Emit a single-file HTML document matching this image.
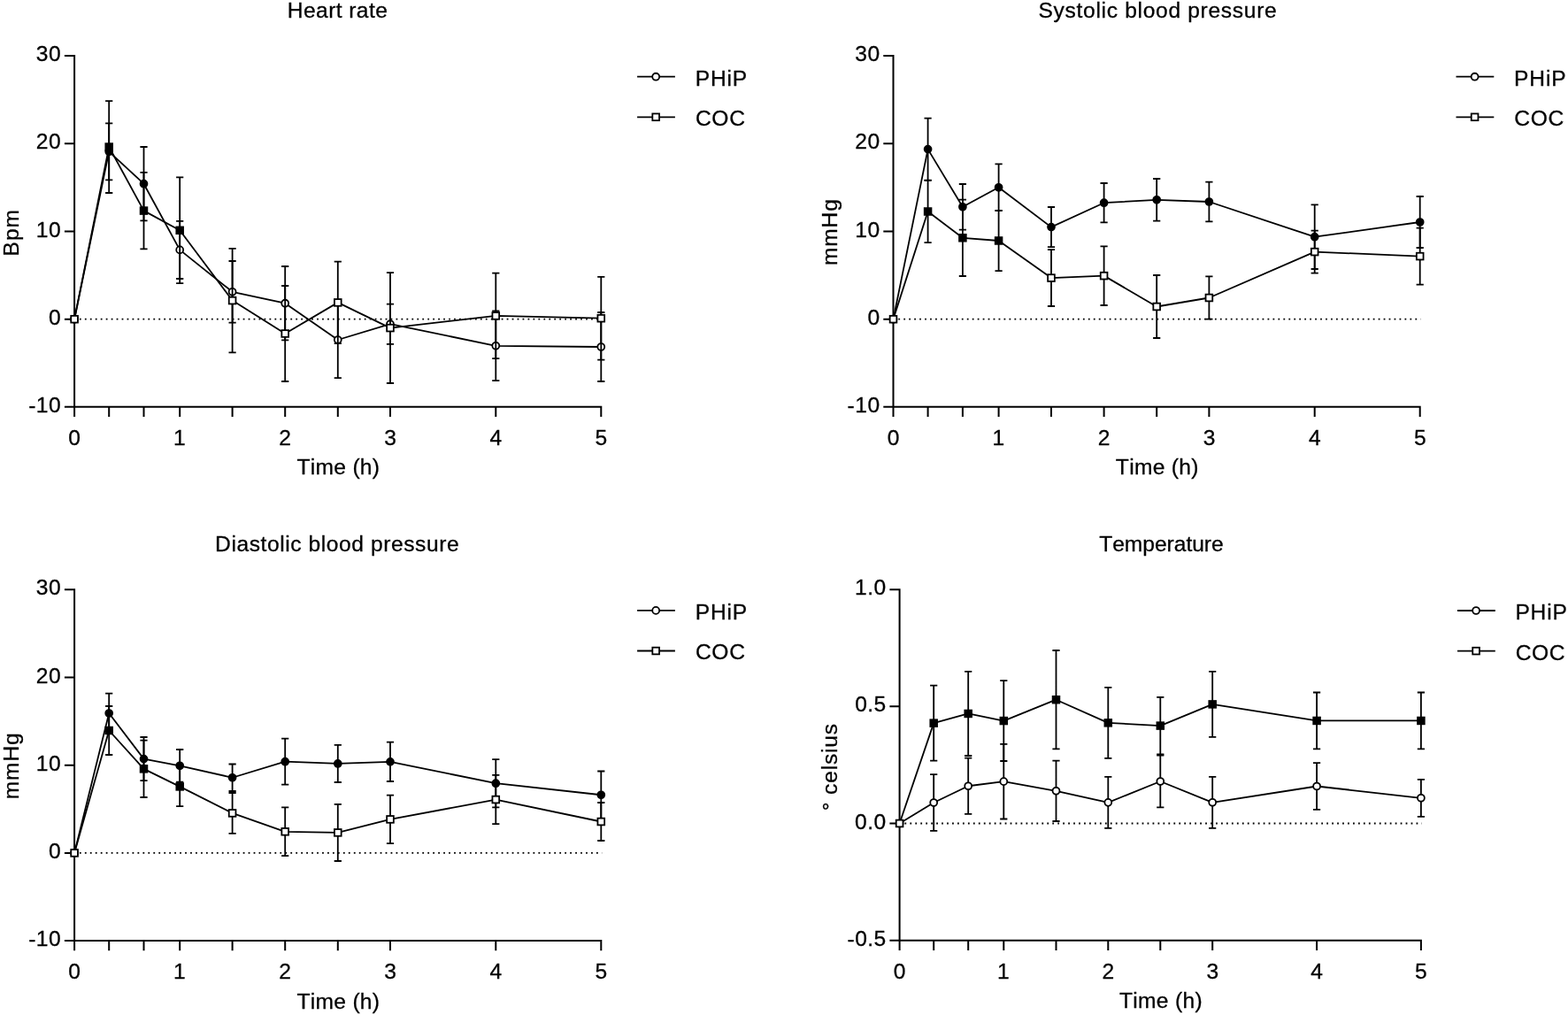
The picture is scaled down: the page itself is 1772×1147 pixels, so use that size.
<!DOCTYPE html>
<html lang="en"><head><meta charset="utf-8"><title>Haemodynamic and temperature effects of PHiP and COC</title>
<style>html,body{margin:0;padding:0;background:#fff}svg{display:block}text{font-family:"Liberation Sans", Arial, Helvetica, sans-serif;font-size:24.6px;fill:#000;stroke:#000;stroke-width:0.3px;font-kerning:none}</style></head><body>
<svg width="1772" height="1147" viewBox="0 0 1772 1147" stroke="#000">
<rect x="0" y="0" width="1772" height="1147" fill="#fff" stroke="none"/>
<g id="heart-rate">
<path d="M84.1 62.1V471M72.9 459.8H680.3M72.9 63.1H84.1M72.9 162.3H84.1M72.9 261.5H84.1M72.9 360.7H84.1M123.2 459.8V471M162.5 459.8V471M203.2 459.8V471M262.6 459.8V471M322.2 459.8V471M381.8 459.8V471M441 459.8V471M560.3 459.8V471M679.3 459.8V471" fill="none" stroke-width="2"/>
<text transform="translate(40.85,69.2)" letter-spacing="0.45">30</text>
<text transform="translate(40.85,168.4)" letter-spacing="0.45">20</text>
<text transform="translate(40.85,267.6)" letter-spacing="0.45">10</text>
<text transform="translate(54.98,366.8)">0</text>
<text transform="translate(32.21,465.9)" letter-spacing="0.45">-10</text>
<line x1="83.95" y1="360.7" x2="680.2" y2="360.7" stroke-width="1.8" stroke-dasharray="1.8 4.16"/>
<path d="M123.2 139.3V203.3M119.1 139.3H127.3M119.1 203.3H127.3M162.5 166V249.4M158.4 166H166.6M158.4 249.4H166.6M203.2 249.8V315M199.1 249.8H207.3M199.1 315H207.3M262.6 295V364.6M258.5 295H266.7M258.5 364.6H266.7M322.2 301V384.4M318.1 301H326.3M318.1 384.4H326.3M381.8 340.8V427.2M377.7 340.8H385.9M377.7 427.2H385.9M441 343.6V388.8M436.9 343.6H445.1M436.9 388.8H445.1M560.3 351.4V430.2M556.2 351.4H564.4M556.2 430.2H564.4M679.3 353V431M675.2 353H683.4M675.2 431H683.4" fill="none" stroke-width="1.8"/>
<polyline points="84.1,360.7 123.2,171.3 162.5,207.7 203.2,282.4 262.6,329.8 322.2,342.7 381.8,384 441,366.2 560.3,390.8 679.3,392" fill="none" stroke-width="1.8" stroke-linejoin="round"/>
<circle cx="84.1" cy="360.7" r="3.95" fill="#fff" stroke-width="1.8"/>
<circle cx="123.2" cy="171.3" r="3.95" fill="#000" stroke-width="1.8"/>
<circle cx="162.5" cy="207.7" r="3.95" fill="#000" stroke-width="1.8"/>
<circle cx="203.2" cy="282.4" r="3.95" fill="#fff" stroke-width="1.8"/>
<circle cx="262.6" cy="329.8" r="3.95" fill="#fff" stroke-width="1.8"/>
<circle cx="322.2" cy="342.7" r="3.95" fill="#fff" stroke-width="1.8"/>
<circle cx="381.8" cy="384" r="3.95" fill="#fff" stroke-width="1.8"/>
<circle cx="441" cy="366.2" r="3.95" fill="#fff" stroke-width="1.8"/>
<circle cx="560.3" cy="390.8" r="3.95" fill="#fff" stroke-width="1.8"/>
<circle cx="679.3" cy="392" r="3.95" fill="#fff" stroke-width="1.8"/>
<path d="M123.2 114.1V218M119.1 114.1H127.3M119.1 218H127.3M162.5 194.8V281.4M158.4 194.8H166.6M158.4 281.4H166.6M203.2 200.4V320.2M199.1 200.4H207.3M199.1 320.2H207.3M262.6 280.8V398.4M258.5 280.8H266.7M258.5 398.4H266.7M322.2 323V431M318.1 323H326.3M318.1 431H326.3M381.8 295.6V388.2M377.7 295.6H385.9M377.7 388.2H385.9M441 308.2V433M436.9 308.2H445.1M436.9 433H445.1M560.3 308.6V405.2M556.2 308.6H564.4M556.2 405.2H564.4M679.3 312.8V406.6M675.2 312.8H683.4M675.2 406.6H683.4" fill="none" stroke-width="1.8"/>
<polyline points="84.1,360.7 123.2,166.05 162.5,238.1 203.2,260.3 262.6,339.6 322.2,377 381.8,341.9 441,370.6 560.3,356.9 679.3,359.7" fill="none" stroke-width="1.8" stroke-linejoin="round"/>
<rect x="80.25" y="356.85" width="7.7" height="7.7" fill="#fff" stroke-width="1.8"/>
<rect x="119.35" y="162.2" width="7.7" height="7.7" fill="#000" stroke-width="1.8"/>
<rect x="158.65" y="234.25" width="7.7" height="7.7" fill="#000" stroke-width="1.8"/>
<rect x="199.35" y="256.45" width="7.7" height="7.7" fill="#000" stroke-width="1.8"/>
<rect x="258.75" y="335.75" width="7.7" height="7.7" fill="#fff" stroke-width="1.8"/>
<rect x="318.35" y="373.15" width="7.7" height="7.7" fill="#fff" stroke-width="1.8"/>
<rect x="377.95" y="338.05" width="7.7" height="7.7" fill="#fff" stroke-width="1.8"/>
<rect x="437.15" y="366.75" width="7.7" height="7.7" fill="#fff" stroke-width="1.8"/>
<rect x="556.45" y="353.05" width="7.7" height="7.7" fill="#fff" stroke-width="1.8"/>
<rect x="675.45" y="355.85" width="7.7" height="7.7" fill="#fff" stroke-width="1.8"/>
<text transform="translate(77.26,503.1)">0</text>
<text transform="translate(196.02,503.1)">1</text>
<text transform="translate(315.36,503.1)">2</text>
<text transform="translate(434.23,503.1)">3</text>
<text transform="translate(553.54,503.1)">4</text>
<text transform="translate(672.48,503.1)">5</text>
<text transform="translate(335.45,536.4)" letter-spacing="0.29">Time (h)</text>
<text transform="translate(324.78,20)" letter-spacing="0.41">Heart rate</text>
<text transform="translate(20.9,289.52) rotate(-90)" letter-spacing="1.03">Bpm</text>
<line x1="720.1" y1="86.7" x2="762.9" y2="86.7" stroke-width="1.8"/>
<circle cx="741.2" cy="86.7" r="3.95" fill="#fff" stroke-width="1.8"/>
<text transform="translate(785.68,96.6)" letter-spacing="0.82">PHiP</text>
<line x1="720.1" y1="132.3" x2="762.9" y2="132.3" stroke-width="1.8"/>
<rect x="737.35" y="128.45" width="7.7" height="7.7" fill="#fff" stroke-width="1.8"/>
<text transform="translate(785.95,142.2)" letter-spacing="0.66">COC</text>
</g><g id="systolic">
<path d="M1009.5 62.1V471M998.3 459.8H1605.7M998.3 63.1H1009.5M998.3 162.3H1009.5M998.3 261.5H1009.5M998.3 360.7H1009.5M1048.6 459.8V471M1087.9 459.8V471M1128.6 459.8V471M1188 459.8V471M1247.6 459.8V471M1307.2 459.8V471M1366.4 459.8V471M1485.7 459.8V471M1604.7 459.8V471" fill="none" stroke-width="2"/>
<text transform="translate(966.25,69.2)" letter-spacing="0.45">30</text>
<text transform="translate(966.25,168.4)" letter-spacing="0.45">20</text>
<text transform="translate(966.25,267.6)" letter-spacing="0.45">10</text>
<text transform="translate(980.38,366.8)">0</text>
<text transform="translate(957.61,465.9)" letter-spacing="0.45">-10</text>
<line x1="1009.35" y1="360.7" x2="1605.6" y2="360.7" stroke-width="1.8" stroke-dasharray="1.8 4.16"/>
<path d="M1048.6 133.6V203.6M1044.5 133.6H1052.7M1044.5 203.6H1052.7M1087.9 208V259.6M1083.8 208H1092M1083.8 259.6H1092M1128.6 185.4V238.2M1124.5 185.4H1132.7M1124.5 238.2H1132.7M1188 234V279.2M1183.9 234H1192.1M1183.9 279.2H1192.1M1247.6 207V251.4M1243.5 207H1251.7M1243.5 251.4H1251.7M1307.2 202V249.6M1303.1 202H1311.3M1303.1 249.6H1311.3M1366.4 205.6V250.4M1362.3 205.6H1370.5M1362.3 250.4H1370.5M1485.7 231.4V304M1481.6 231.4H1489.8M1481.6 304H1489.8M1604.7 222V280M1600.6 222H1608.8M1600.6 280H1608.8" fill="none" stroke-width="1.8"/>
<polyline points="1009.5,360.7 1048.6,168.6 1087.9,233.8 1128.6,211.8 1188,256.6 1247.6,229.2 1307.2,225.8 1366.4,228 1485.7,267.7 1604.7,251" fill="none" stroke-width="1.8" stroke-linejoin="round"/>
<circle cx="1009.5" cy="360.7" r="3.95" fill="#fff" stroke-width="1.8"/>
<circle cx="1048.6" cy="168.6" r="3.95" fill="#000" stroke-width="1.8"/>
<circle cx="1087.9" cy="233.8" r="3.95" fill="#000" stroke-width="1.8"/>
<circle cx="1128.6" cy="211.8" r="3.95" fill="#000" stroke-width="1.8"/>
<circle cx="1188" cy="256.6" r="3.95" fill="#000" stroke-width="1.8"/>
<circle cx="1247.6" cy="229.2" r="3.95" fill="#000" stroke-width="1.8"/>
<circle cx="1307.2" cy="225.8" r="3.95" fill="#000" stroke-width="1.8"/>
<circle cx="1366.4" cy="228" r="3.95" fill="#000" stroke-width="1.8"/>
<circle cx="1485.7" cy="267.7" r="3.95" fill="#000" stroke-width="1.8"/>
<circle cx="1604.7" cy="251" r="3.95" fill="#000" stroke-width="1.8"/>
<path d="M1048.6 203.8V274.2M1044.5 203.8H1052.7M1044.5 274.2H1052.7M1087.9 225.6V312M1083.8 225.6H1092M1083.8 312H1092M1128.6 237.8V306.2M1124.5 237.8H1132.7M1124.5 306.2H1132.7M1188 282.2V346M1183.9 282.2H1192.1M1183.9 346H1192.1M1247.6 278.3V345M1243.5 278.3H1251.7M1243.5 345H1251.7M1307.2 311V382M1303.1 311H1311.3M1303.1 382H1311.3M1366.4 312.4V360.6M1362.3 312.4H1370.5M1362.3 360.6H1370.5M1485.7 260.6V308.6M1481.6 260.6H1489.8M1481.6 308.6H1489.8M1604.7 257.6V321.6M1600.6 257.6H1608.8M1600.6 321.6H1608.8" fill="none" stroke-width="1.8"/>
<polyline points="1009.5,360.7 1048.6,239 1087.9,268.8 1128.6,272 1188,314.1 1247.6,311.65 1307.2,346.5 1366.4,336.5 1485.7,284.6 1604.7,289.6" fill="none" stroke-width="1.8" stroke-linejoin="round"/>
<rect x="1005.65" y="356.85" width="7.7" height="7.7" fill="#fff" stroke-width="1.8"/>
<rect x="1044.75" y="235.15" width="7.7" height="7.7" fill="#000" stroke-width="1.8"/>
<rect x="1084.05" y="264.95" width="7.7" height="7.7" fill="#000" stroke-width="1.8"/>
<rect x="1124.75" y="268.15" width="7.7" height="7.7" fill="#000" stroke-width="1.8"/>
<rect x="1184.15" y="310.25" width="7.7" height="7.7" fill="#fff" stroke-width="1.8"/>
<rect x="1243.75" y="307.8" width="7.7" height="7.7" fill="#fff" stroke-width="1.8"/>
<rect x="1303.35" y="342.65" width="7.7" height="7.7" fill="#fff" stroke-width="1.8"/>
<rect x="1362.55" y="332.65" width="7.7" height="7.7" fill="#fff" stroke-width="1.8"/>
<rect x="1481.85" y="280.75" width="7.7" height="7.7" fill="#fff" stroke-width="1.8"/>
<rect x="1600.85" y="285.75" width="7.7" height="7.7" fill="#fff" stroke-width="1.8"/>
<text transform="translate(1002.66,503.1)">0</text>
<text transform="translate(1121.42,503.1)">1</text>
<text transform="translate(1240.76,503.1)">2</text>
<text transform="translate(1359.63,503.1)">3</text>
<text transform="translate(1478.94,503.1)">4</text>
<text transform="translate(1597.88,503.1)">5</text>
<text transform="translate(1260.85,536.4)" letter-spacing="0.29">Time (h)</text>
<text transform="translate(1173.48,20)" letter-spacing="0.68">Systolic blood pressure</text>
<text transform="translate(946.2,300.03) rotate(-90)" letter-spacing="0.83">mmHg</text>
<line x1="1645.5" y1="86.7" x2="1688.3" y2="86.7" stroke-width="1.8"/>
<circle cx="1666.6" cy="86.7" r="3.95" fill="#fff" stroke-width="1.8"/>
<text transform="translate(1711.08,96.6)" letter-spacing="0.82">PHiP</text>
<line x1="1645.5" y1="132.3" x2="1688.3" y2="132.3" stroke-width="1.8"/>
<rect x="1662.75" y="128.45" width="7.7" height="7.7" fill="#fff" stroke-width="1.8"/>
<text transform="translate(1711.35,142.2)" letter-spacing="0.66">COC</text>
</g><g id="diastolic">
<path d="M84.1 665.3V1074.2M72.9 1063H680.3M72.9 666.3H84.1M72.9 765.5H84.1M72.9 864.7H84.1M72.9 963.9H84.1M123.2 1063V1074.2M162.5 1063V1074.2M203.2 1063V1074.2M262.6 1063V1074.2M322.2 1063V1074.2M381.8 1063V1074.2M441 1063V1074.2M560.3 1063V1074.2M679.3 1063V1074.2" fill="none" stroke-width="2"/>
<text transform="translate(40.85,672.4)" letter-spacing="0.45">30</text>
<text transform="translate(40.85,771.6)" letter-spacing="0.45">20</text>
<text transform="translate(40.85,870.8)" letter-spacing="0.45">10</text>
<text transform="translate(54.98,970)">0</text>
<text transform="translate(32.21,1069.1)" letter-spacing="0.45">-10</text>
<line x1="83.95" y1="963.9" x2="680.2" y2="963.9" stroke-width="1.8" stroke-dasharray="1.8 4.16"/>
<path d="M123.2 783.6V828.4M119.1 783.6H127.3M119.1 828.4H127.3M162.5 833V882.2M158.4 833H166.6M158.4 882.2H166.6M203.2 847V883.6M199.1 847H207.3M199.1 883.6H207.3M262.6 863.5V894M258.5 863.5H266.7M258.5 894H266.7M322.2 834.7V886.7M318.1 834.7H326.3M318.1 886.7H326.3M381.8 841.9V884M377.7 841.9H385.9M377.7 884H385.9M441 838.7V883M436.9 838.7H445.1M436.9 883H445.1M560.3 858.1V912.3M556.2 858.1H564.4M556.2 912.3H564.4M679.3 871.5V925M675.2 871.5H683.4M675.2 925H683.4" fill="none" stroke-width="1.8"/>
<polyline points="84.1,963.9 123.2,806 162.5,857.6 203.2,865.3 262.6,878.75 322.2,860.7 381.8,862.95 441,860.85 560.3,885.2 679.3,898.25" fill="none" stroke-width="1.8" stroke-linejoin="round"/>
<circle cx="84.1" cy="963.9" r="3.95" fill="#fff" stroke-width="1.8"/>
<circle cx="123.2" cy="806" r="3.95" fill="#000" stroke-width="1.8"/>
<circle cx="162.5" cy="857.6" r="3.95" fill="#000" stroke-width="1.8"/>
<circle cx="203.2" cy="865.3" r="3.95" fill="#000" stroke-width="1.8"/>
<circle cx="262.6" cy="878.75" r="3.95" fill="#000" stroke-width="1.8"/>
<circle cx="322.2" cy="860.7" r="3.95" fill="#000" stroke-width="1.8"/>
<circle cx="381.8" cy="862.95" r="3.95" fill="#000" stroke-width="1.8"/>
<circle cx="441" cy="860.85" r="3.95" fill="#000" stroke-width="1.8"/>
<circle cx="560.3" cy="885.2" r="3.95" fill="#000" stroke-width="1.8"/>
<circle cx="679.3" cy="898.25" r="3.95" fill="#000" stroke-width="1.8"/>
<path d="M123.2 798V853M119.1 798H127.3M119.1 853H127.3M162.5 836.7V901M158.4 836.7H166.6M158.4 901H166.6M203.2 866.6V911.2M199.1 866.6H207.3M199.1 911.2H207.3M262.6 896V941.8M258.5 896H266.7M258.5 941.8H266.7M322.2 912.4V967.2M318.1 912.4H326.3M318.1 967.2H326.3M381.8 908.8V973M377.7 908.8H385.9M377.7 973H385.9M441 898.6V953.2M436.9 898.6H445.1M436.9 953.2H445.1M560.3 875.9V931.2M556.2 875.9H564.4M556.2 931.2H564.4M679.3 907V950M675.2 907H683.4M675.2 950H683.4" fill="none" stroke-width="1.8"/>
<polyline points="84.1,963.9 123.2,825.5 162.5,868.85 203.2,888.9 262.6,918.9 322.2,939.8 381.8,940.9 441,925.9 560.3,903.55 679.3,928.5" fill="none" stroke-width="1.8" stroke-linejoin="round"/>
<rect x="80.25" y="960.05" width="7.7" height="7.7" fill="#fff" stroke-width="1.8"/>
<rect x="119.35" y="821.65" width="7.7" height="7.7" fill="#000" stroke-width="1.8"/>
<rect x="158.65" y="865" width="7.7" height="7.7" fill="#000" stroke-width="1.8"/>
<rect x="199.35" y="885.05" width="7.7" height="7.7" fill="#000" stroke-width="1.8"/>
<rect x="258.75" y="915.05" width="7.7" height="7.7" fill="#fff" stroke-width="1.8"/>
<rect x="318.35" y="935.95" width="7.7" height="7.7" fill="#fff" stroke-width="1.8"/>
<rect x="377.95" y="937.05" width="7.7" height="7.7" fill="#fff" stroke-width="1.8"/>
<rect x="437.15" y="922.05" width="7.7" height="7.7" fill="#fff" stroke-width="1.8"/>
<rect x="556.45" y="899.7" width="7.7" height="7.7" fill="#fff" stroke-width="1.8"/>
<rect x="675.45" y="924.65" width="7.7" height="7.7" fill="#fff" stroke-width="1.8"/>
<text transform="translate(77.26,1106.3)">0</text>
<text transform="translate(196.02,1106.3)">1</text>
<text transform="translate(315.36,1106.3)">2</text>
<text transform="translate(434.23,1106.3)">3</text>
<text transform="translate(553.54,1106.3)">4</text>
<text transform="translate(672.48,1106.3)">5</text>
<text transform="translate(335.45,1139.6)" letter-spacing="0.29">Time (h)</text>
<text transform="translate(243.08,623)" letter-spacing="0.57">Diastolic blood pressure</text>
<text transform="translate(20.8,903.23) rotate(-90)" letter-spacing="0.83">mmHg</text>
<line x1="720.1" y1="689.9" x2="762.9" y2="689.9" stroke-width="1.8"/>
<circle cx="741.2" cy="689.9" r="3.95" fill="#fff" stroke-width="1.8"/>
<text transform="translate(785.68,699.8)" letter-spacing="0.82">PHiP</text>
<line x1="720.1" y1="735.5" x2="762.9" y2="735.5" stroke-width="1.8"/>
<rect x="737.35" y="731.65" width="7.7" height="7.7" fill="#fff" stroke-width="1.8"/>
<text transform="translate(785.95,745.4)" letter-spacing="0.66">COC</text>
</g><g id="temperature">
<path d="M1016.6 665.2V1073.9M1005.4 1062.7H1606.9M1005.4 666.2H1016.6M1005.4 798.3H1016.6M1005.4 930.5H1016.6M1055.2 1062.7V1073.9M1094.2 1062.7V1073.9M1134.3 1062.7V1073.9M1193.5 1062.7V1073.9M1252.3 1062.7V1073.9M1311.3 1062.7V1073.9M1370.2 1062.7V1073.9M1488.1 1062.7V1073.9M1605.9 1062.7V1073.9" fill="none" stroke-width="2"/>
<text transform="translate(966.06,672.3)" letter-spacing="0.45">1.0</text>
<text transform="translate(966.14,804.4)" letter-spacing="0.45">0.5</text>
<text transform="translate(966.06,936.6)" letter-spacing="0.45">0.0</text>
<text transform="translate(957.49,1068.8)" letter-spacing="0.45">-0.5</text>
<line x1="1016.45" y1="930.5" x2="1606.8" y2="930.5" stroke-width="1.8" stroke-dasharray="1.8 4.16"/>
<path d="M1055.2 875.2V938.9M1051.1 875.2H1059.3M1051.1 938.9H1059.3M1094.2 856.6V919.9M1090.1 856.6H1098.3M1090.1 919.9H1098.3M1134.3 840.8V925.5M1130.2 840.8H1138.4M1130.2 925.5H1138.4M1193.5 859.6V928M1189.4 859.6H1197.6M1189.4 928H1197.6M1252.3 877.8V935.9M1248.2 877.8H1256.4M1248.2 935.9H1256.4M1311.3 853.6V912.4M1307.2 853.6H1315.4M1307.2 912.4H1315.4M1370.2 877.8V935.8M1366.1 877.8H1374.3M1366.1 935.8H1374.3M1488.1 862.2V914.8M1484 862.2H1492.2M1484 914.8H1492.2M1605.9 880.8V922.8M1601.8 880.8H1610M1601.8 922.8H1610" fill="none" stroke-width="1.8"/>
<polyline points="1016.6,930.5 1055.2,907.05 1094.2,888.25 1134.3,883.15 1193.5,893.8 1252.3,906.85 1311.3,883 1370.2,906.8 1488.1,888.5 1605.9,901.8" fill="none" stroke-width="1.8" stroke-linejoin="round"/>
<circle cx="1016.6" cy="930.5" r="3.95" fill="#fff" stroke-width="1.8"/>
<circle cx="1055.2" cy="907.05" r="3.95" fill="#fff" stroke-width="1.8"/>
<circle cx="1094.2" cy="888.25" r="3.95" fill="#fff" stroke-width="1.8"/>
<circle cx="1134.3" cy="883.15" r="3.95" fill="#fff" stroke-width="1.8"/>
<circle cx="1193.5" cy="893.8" r="3.95" fill="#fff" stroke-width="1.8"/>
<circle cx="1252.3" cy="906.85" r="3.95" fill="#fff" stroke-width="1.8"/>
<circle cx="1311.3" cy="883" r="3.95" fill="#fff" stroke-width="1.8"/>
<circle cx="1370.2" cy="906.8" r="3.95" fill="#fff" stroke-width="1.8"/>
<circle cx="1488.1" cy="888.5" r="3.95" fill="#fff" stroke-width="1.8"/>
<circle cx="1605.9" cy="901.8" r="3.95" fill="#fff" stroke-width="1.8"/>
<path d="M1055.2 774.7V859.6M1051.1 774.7H1059.3M1051.1 859.6H1059.3M1094.2 758.9V854M1090.1 758.9H1098.3M1090.1 854H1098.3M1134.3 769.1V860M1130.2 769.1H1138.4M1130.2 860H1138.4M1193.5 735V846.4M1189.4 735H1197.6M1189.4 846.4H1197.6M1252.3 776.9V856.8M1248.2 776.9H1256.4M1248.2 856.8H1256.4M1311.3 787.9V852.3M1307.2 787.9H1315.4M1307.2 852.3H1315.4M1370.2 758.9V832.9M1366.1 758.9H1374.3M1366.1 832.9H1374.3M1488.1 782.5V846.4M1484 782.5H1492.2M1484 846.4H1492.2M1605.9 782.5V846.4M1601.8 782.5H1610M1601.8 846.4H1610" fill="none" stroke-width="1.8"/>
<polyline points="1016.6,930.5 1055.2,817.15 1094.2,806.45 1134.3,814.55 1193.5,790.7 1252.3,816.85 1311.3,820.1 1370.2,795.9 1488.1,814.45 1605.9,814.45" fill="none" stroke-width="1.8" stroke-linejoin="round"/>
<rect x="1012.75" y="926.65" width="7.7" height="7.7" fill="#fff" stroke-width="1.8"/>
<rect x="1051.35" y="813.3" width="7.7" height="7.7" fill="#000" stroke-width="1.8"/>
<rect x="1090.35" y="802.6" width="7.7" height="7.7" fill="#000" stroke-width="1.8"/>
<rect x="1130.45" y="810.7" width="7.7" height="7.7" fill="#000" stroke-width="1.8"/>
<rect x="1189.65" y="786.85" width="7.7" height="7.7" fill="#000" stroke-width="1.8"/>
<rect x="1248.45" y="813" width="7.7" height="7.7" fill="#000" stroke-width="1.8"/>
<rect x="1307.45" y="816.25" width="7.7" height="7.7" fill="#000" stroke-width="1.8"/>
<rect x="1366.35" y="792.05" width="7.7" height="7.7" fill="#000" stroke-width="1.8"/>
<rect x="1484.25" y="810.6" width="7.7" height="7.7" fill="#000" stroke-width="1.8"/>
<rect x="1602.05" y="810.6" width="7.7" height="7.7" fill="#000" stroke-width="1.8"/>
<text transform="translate(1009.76,1106)">0</text>
<text transform="translate(1127.12,1106)">1</text>
<text transform="translate(1245.46,1106)">2</text>
<text transform="translate(1363.43,1106)">3</text>
<text transform="translate(1481.34,1106)">4</text>
<text transform="translate(1599.08,1106)">5</text>
<text transform="translate(1265,1139.3)" letter-spacing="0.29">Time (h)</text>
<text transform="translate(1242.25,622.7)" letter-spacing="-0.04">Temperature</text>
<text transform="translate(945.9,916.27) rotate(-90)" letter-spacing="0.82">° celsius</text>
<line x1="1647" y1="690" x2="1689.8" y2="690" stroke-width="1.8"/>
<circle cx="1668.1" cy="690" r="3.95" fill="#fff" stroke-width="1.8"/>
<text transform="translate(1712.38,699.9)" letter-spacing="0.82">PHiP</text>
<line x1="1647" y1="735.6" x2="1689.8" y2="735.6" stroke-width="1.8"/>
<rect x="1664.25" y="731.75" width="7.7" height="7.7" fill="#fff" stroke-width="1.8"/>
<text transform="translate(1712.65,745.5)" letter-spacing="0.66">COC</text>
</g></svg></body></html>
